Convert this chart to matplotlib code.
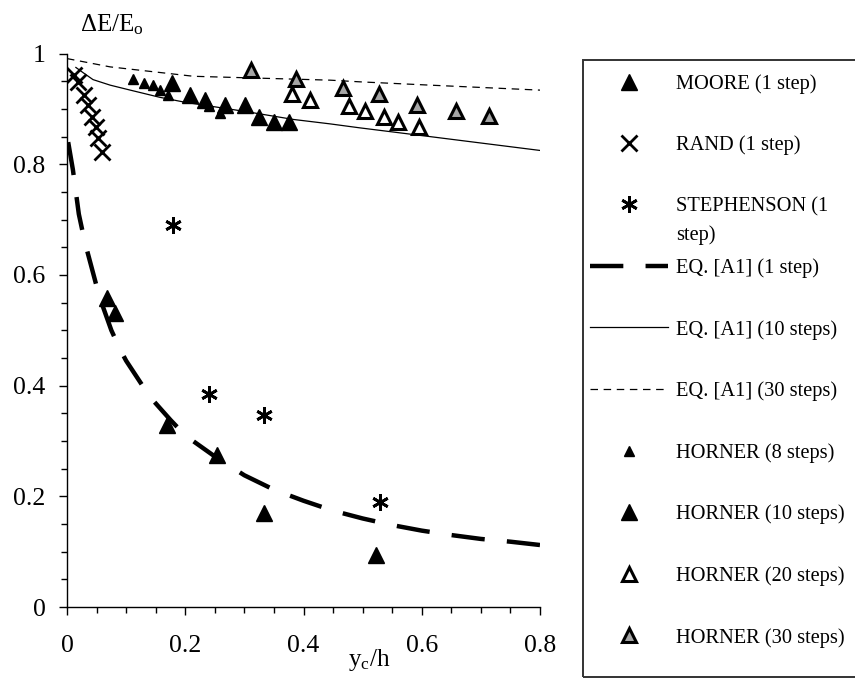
import matplotlib
matplotlib.use("Agg")
import matplotlib.pyplot as plt
from matplotlib.patches import Rectangle
from matplotlib.ticker import MultipleLocator

plt.rcParams['font.family'] = ['Liberation Serif', 'DejaVu Serif']
plt.rcParams['mathtext.fontset'] = 'custom'
plt.rcParams['mathtext.rm'] = 'Liberation Serif'
plt.rcParams['mathtext.it'] = 'Liberation Serif:italic'

# ---------------- data ----------------
moore_x = [0.067, 0.081, 0.169, 0.253, 0.333, 0.522]
moore_y = [0.558, 0.531, 0.329, 0.275, 0.170, 0.094]

rand_x = [0.012, 0.019, 0.028, 0.036, 0.043, 0.049, 0.053, 0.059]
rand_y = [0.961, 0.949, 0.925, 0.907, 0.886, 0.868, 0.847, 0.823]

steph_x = [0.180, 0.240, 0.333, 0.529]
steph_y = [0.690, 0.384, 0.347, 0.190]

eq1_x = [0.002, 0.010, 0.020, 0.030, 0.045, 0.055, 0.075, 0.090, 0.100, 0.140,
         0.175, 0.200, 0.250, 0.300, 0.350, 0.400, 0.450, 0.500, 0.550, 0.600,
         0.650, 0.700, 0.750, 0.800]
eq1_y = [0.840, 0.790, 0.710, 0.660, 0.600, 0.560, 0.500, 0.465, 0.445, 0.380,
         0.338, 0.310, 0.272, 0.238, 0.212, 0.192, 0.174, 0.160, 0.148, 0.138,
         0.130, 0.123, 0.118, 0.112]

eq10_x = [0.015, 0.028, 0.044, 0.073, 0.107, 0.157, 0.200, 0.304, 0.383, 0.445,
          0.494, 0.614, 0.800]
eq10_y = [0.975, 0.965, 0.953, 0.943, 0.934, 0.921, 0.912, 0.895, 0.881, 0.873,
          0.866, 0.850, 0.825]

eq30_x = [0.000, 0.073, 0.214, 0.445, 0.495, 0.614, 0.800]
eq30_y = [0.991, 0.976, 0.959, 0.952, 0.949, 0.943, 0.934]

h8_x = [0.111, 0.131, 0.145, 0.157, 0.171, 0.240, 0.259]
h8_y = [0.954, 0.946, 0.944, 0.935, 0.925, 0.905, 0.893]

h10_x = [0.177, 0.208, 0.234, 0.268, 0.301, 0.325, 0.350, 0.375]
h10_y = [0.947, 0.925, 0.916, 0.907, 0.907, 0.886, 0.877, 0.877]

h20_x = [0.381, 0.411, 0.477, 0.504, 0.536, 0.560, 0.596]
h20_y = [0.927, 0.917, 0.905, 0.897, 0.886, 0.877, 0.867]

h30_x = [0.311, 0.387, 0.466, 0.528, 0.592, 0.658, 0.713]
h30_y = [0.971, 0.955, 0.937, 0.927, 0.907, 0.897, 0.887]

labels = ["MOORE (1 step)", "RAND (1 step)", "STEPHENSON (1",
          "EQ. [A1] (1 step)", "EQ. [A1] (10 steps)", "EQ. [A1] (30 steps)",
          "HORNER (8 steps)", "HORNER (10 steps)", "HORNER (20 steps)",
          "HORNER (30 steps)"]
label_wrap = "step)"

xticks = [0, 0.2, 0.4, 0.6, 0.8]
yticks = [0, 0.2, 0.4, 0.6, 0.8, 1]
xtick_labels = ["0", "0.2", "0.4", "0.6", "0.8"]
ytick_labels = ["0", "0.2", "0.4", "0.6", "0.8", "1"]

# ---------------- figure ----------------
W, H = 855, 679
fig = plt.figure(figsize=(W / 100, H / 100), dpi=100)
ax = fig.add_axes([67 / W, 1 - 607 / H, (540 - 67) / W, (607 - 53.6) / H])

ax.set_xlim(0, 0.8)
ax.set_ylim(0, 1)
for s in ['top', 'right']:
    ax.spines[s].set_visible(False)
for s in ['left', 'bottom']:
    ax.spines[s].set_linewidth(1.0)
    ax.spines[s].set_color('black')

ax.set_xticks(xticks)
ax.set_xticklabels(xtick_labels)
ax.set_yticks(yticks)
ax.set_yticklabels(ytick_labels)
ax.xaxis.set_minor_locator(MultipleLocator(0.05))
ax.yaxis.set_minor_locator(MultipleLocator(0.05))
ax.tick_params(axis='both', which='major', direction='out', length=5.5, width=1.0,
               labelsize=18.5)
ax.tick_params(axis='both', which='minor', direction='out', length=4.5, width=1.0)
ax.tick_params(axis='x', which='major', pad=15)
ax.tick_params(axis='y', which='major', pad=10)

tri_big = dict(marker='^', ms=11, mfc='black', mec='black', ls='none')
l_moore, = ax.plot(moore_x, moore_y, zorder=5, **tri_big)
l_rand, = ax.plot(rand_x, rand_y, marker='x', ms=11, mew=2, color='black',
                  ls='none', zorder=5)
l_steph, = ax.plot(steph_x, steph_y, marker=(6, 2, 0), ms=12, mew=2,
                   color='black', ls='none', zorder=5)
l_eq1, = ax.plot(eq1_x, eq1_y, color='black', lw=3.2, dashes=(7.5, 5),
                 zorder=3)
l_eq10, = ax.plot(eq10_x, eq10_y, color='black', lw=0.9, zorder=3)
l_eq30, = ax.plot(eq30_x, eq30_y, color='black', lw=0.9, dashes=(6, 4.5),
                  zorder=3)
l_h8, = ax.plot(h8_x, h8_y, marker='^', ms=6.5, mfc='black', mec='black',
                ls='none', zorder=5)
l_h10, = ax.plot(h10_x, h10_y, zorder=5, **tri_big)
l_h20, = ax.plot(h20_x, h20_y, marker='^', ms=10, mfc='white', mec='black',
                 mew=2.2, ls='none', zorder=5)
l_h30, = ax.plot(h30_x, h30_y, marker='^', ms=10, mfc='#a6a6a6', mec='black',
                 mew=2.2, ls='none', zorder=5)

# axis labels
fig.text(112 / W, 1 - 25 / H, r'$\mathrm{\Delta E/E_o}$', fontsize=18,
         ha='center', va='center')
fig.text(369 / W, 1 - 660 / H, r'$\mathrm{y_c/h}$', fontsize=18,
         ha='center', va='center')

# legend frame
fig.patches.append(Rectangle((583 / W, 1 - 677 / H), (870 - 583) / W,
                             (677 - 60) / H, transform=fig.transFigure,
                             fill=False, lw=1.4, edgecolor='#333333'))

handles = [l_moore, l_rand, l_steph, l_eq1, l_eq10, l_eq30,
           l_h8, l_h10, l_h20, l_h30]
leg = fig.legend(handles, labels, loc='upper left',
                 bbox_to_anchor=(590 / W, 1 - 74 / H), borderaxespad=0,
                 borderpad=0, frameon=False, fontsize=14.7,
                 handlelength=3.8, handletextpad=0.4, labelspacing=2.05,
                 numpoints=1)

fig.canvas.draw()
# wrapped continuation of the STEPHENSON label
t = leg.get_texts()[2]
bb = t.get_window_extent()
fig.text(bb.x0 / W, (bb.y0 + bb.y1) / 2 / H - 28 / H, label_wrap,
         fontsize=14.7, ha='left', va='center')

fig.savefig("out.png", dpi=100)
